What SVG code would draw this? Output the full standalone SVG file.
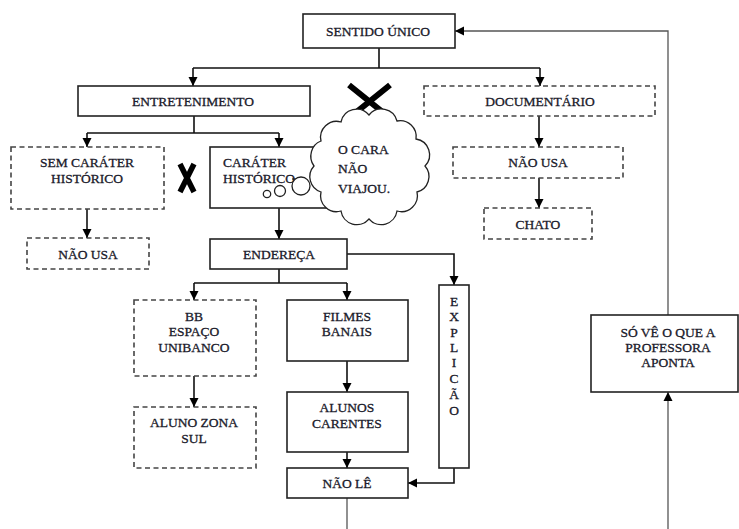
<svg xmlns="http://www.w3.org/2000/svg" width="739" height="529" viewBox="0 0 739 529">
<style>
.box{fill:#fff;stroke:#222;stroke-width:1.6}
.dash{fill:#fff;stroke:#444;stroke-width:1.6;stroke-dasharray:5,3.5}
text{font-family:'Liberation Serif','DejaVu Serif',serif;font-size:13.5px;fill:#1a1a2a;stroke:#1a1a2a;stroke-width:0.3;text-anchor:middle}
.ts{text-anchor:start}
.c{fill:none;stroke:#111;stroke-width:1.6}
.g{fill:none;stroke:#555;stroke-width:1.3}
.a{marker-end:url(#ah)}
</style>
<defs>
<marker id="ah" viewBox="0 0 10 10" refX="10" refY="5" markerWidth="9" markerHeight="10" markerUnits="userSpaceOnUse" orient="auto">
<path d="M0,0 L10,5 L0,10 z" fill="#000"/>
</marker>
</defs>
<rect width="739" height="529" fill="#fff"/>

<g id="connectors">
<path class="c" d="M379,48 V68 M193,68 H540"/>
<path class="c a" d="M193,68 V86"/>
<path class="c a" d="M540,68 V86"/>
<path class="c" d="M194,116 V133 M87,133 H279"/>
<path class="c a" d="M87,133 V147"/>
<path class="c a" d="M279,133 V147"/>
<path class="c a" d="M539,116 V147"/>
<path class="c a" d="M539,178 V208"/>
<path class="c a" d="M87,209 V238"/>
<path class="c a" d="M279,208 V239"/>
<path class="c a" d="M347,254 H454 V285"/>
<path class="c" d="M279,269 V283 M194,283 H347"/>
<path class="c a" d="M194,283 V300"/>
<path class="c a" d="M347,283 V300"/>
<path class="c a" d="M194,376 V407"/>
<path class="c a" d="M347,361 V392"/>
<path class="c a" d="M347,452 V468"/>
<path class="c a" d="M454,468 V483 H408"/>
<path class="g" d="M347,498 V529"/>
<path class="g a" d="M668,529 V392"/>
<path class="g a" d="M668,315 V31 H455"/>
</g>

<g id="sentido-unico">
<rect class="box" x="303" y="14" width="152" height="34"/>
<text x="378" y="35.5">SENTIDO ÚNICO</text>
</g>

<g id="entretenimento">
<rect class="box" x="78" y="86" width="232" height="30"/>
<text x="193" y="105.5">ENTRETENIMENTO</text>
</g>

<g id="documentario">
<rect class="dash" x="424" y="86" width="231" height="30"/>
<text x="540" y="105.5">DOCUMENTÁRIO</text>
</g>

<g id="x-mark-top">
<path d="M349,85 L390,118 M390,85 L349,118" stroke="#000" stroke-width="6" fill="none"/>
</g>

<g id="sem-carater-historico">
<rect class="dash" x="11" y="147" width="153" height="62"/>
<text x="87" y="166.5">SEM CARÁTER</text>
<text x="87" y="182.5">HISTÓRICO</text>
</g>

<g id="x-mark-left">
<path d="M180,164 L194,192 M194,164 L180,192" stroke="#000" stroke-width="5.5" fill="none"/>
</g>

<g id="carater-historico">
<rect class="box" x="210" y="147" width="140" height="61"/>
<text class="ts" x="223" y="166.5">CARÁTER</text>
<text class="ts" x="223" y="182.5">HISTÓRICO</text>
<path d="M292,179 H302" stroke="#222" stroke-width="1.2"/>
</g>

<g id="cloud">
<circle cx="267" cy="194" r="3.7" fill="#fff" stroke="#222" stroke-width="1.3"/>
<circle cx="280" cy="191" r="5.5" fill="#fff" stroke="#222" stroke-width="1.3"/>
<circle cx="301" cy="186" r="9" fill="#fff" stroke="#222" stroke-width="1.3"/>
<path d="M314,166 A15,16 0 0,1 321,141 A16,16 0 0,1 341,122 A16,16 0 0,1 369,115 A16,16 0 0,1 397,121 A16,16 0 0,1 416,139 A16,16 0 0,1 425,166 A16,16 0 0,1 417,192 A16,16 0 0,1 397,211 A16,16 0 0,1 369,219 A16,16 0 0,1 341,211 A16,16 0 0,1 321,192 A16,16 0 0,1 314,166 z" fill="#fff" stroke="#222" stroke-width="1.3"/>
<text class="ts" x="338" y="153.5">O CARA</text>
<text class="ts" x="338" y="172.5">NÃO</text>
<text class="ts" x="338" y="192.5">VIAJOU.</text>
</g>

<g id="nao-usa-left">
<rect class="dash" x="27" y="238" width="122" height="31"/>
<text x="88" y="258.5">NÃO USA</text>
</g>

<g id="nao-usa-right">
<rect class="dash" x="453" y="147" width="170" height="31"/>
<text x="538" y="166.5">NÃO USA</text>
</g>

<g id="chato">
<rect class="dash" x="484" y="208" width="108" height="31"/>
<text x="538" y="228.5">CHATO</text>
</g>

<g id="endereca">
<rect class="box" x="210" y="239" width="137" height="30"/>
<text x="279" y="258.5">ENDEREÇA</text>
</g>

<g id="bb-espaco-unibanco">
<rect class="dash" x="134" y="300" width="122" height="76"/>
<text x="194" y="320.5">BB</text>
<text x="194" y="335.5">ESPAÇO</text>
<text x="194" y="351.5">UNIBANCO</text>
</g>

<g id="filmes-banais">
<rect class="box" x="287" y="300" width="121" height="61"/>
<text x="347" y="320.5">FILMES</text>
<text x="347" y="335.5">BANAIS</text>
</g>

<g id="explicacao">
<rect class="box" x="439" y="285" width="30" height="183"/>
<text x="454" y="305.5">E</text>
<text x="454" y="320.5">X</text>
<text x="454" y="336.5">P</text>
<text x="454" y="351.5">L</text>
<text x="454" y="366.5">I</text>
<text x="454" y="382.5">C</text>
<text x="454" y="398.5">Ã</text>
<text x="454" y="414.5">O</text>
</g>

<g id="aluno-zona-sul">
<rect class="dash" x="134" y="407" width="122" height="61"/>
<text x="194" y="426.5">ALUNO ZONA</text>
<text x="194" y="442.5">SUL</text>
</g>

<g id="alunos-carentes">
<rect class="box" x="287" y="392" width="121" height="60"/>
<text x="347" y="411.5">ALUNOS</text>
<text x="347" y="427.5">CARENTES</text>
</g>

<g id="nao-le">
<rect class="box" x="287" y="468" width="121" height="30"/>
<text x="347" y="487.5">NÃO LÊ</text>
</g>

<g id="so-ve">
<rect class="box" x="591" y="315" width="147" height="77"/>
<text x="668" y="336.5">SÓ VÊ O QUE A</text>
<text x="668" y="351.5">PROFESSORA</text>
<text x="668" y="366.5">APONTA</text>
</g>
</svg>
